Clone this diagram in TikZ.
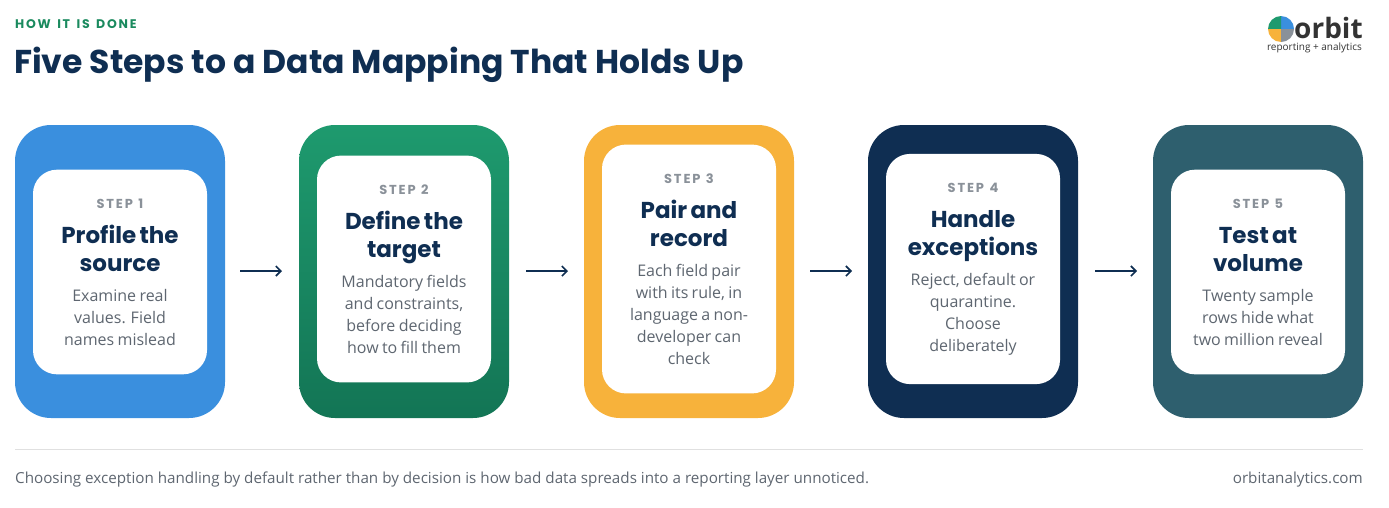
\documentclass[tikz,border=0pt]{standalone}
\usepackage{fontspec}
\setmainfont{Open Sans}
\newfontfamily\headfont{Poppins}
\newfontfamily\spacedfont[LetterSpace=14]{Poppins}
\usetikzlibrary{positioning,arrows.meta}
\definecolor{navy}{HTML}{0F2E52}
\definecolor{inkgray}{HTML}{5E6670}
\definecolor{stepgray}{HTML}{8A9199}
\definecolor{kickgreen}{HTML}{1A8A5E}
\definecolor{cblue}{HTML}{3A8FDE}
\definecolor{cgreenA}{HTML}{1E9A6E}
\definecolor{cgreenB}{HTML}{137555}
\definecolor{corange}{HTML}{F7B23B}
\definecolor{cnavy}{HTML}{0F2E52}
\definecolor{cteal}{HTML}{2E5F6E}
\tikzset{
  card/.style={rounded corners=36pt},
  panel/.style={fill=white, rounded corners=24pt, minimum width=174pt, text width=160pt,
    inner xsep=7pt, inner ysep=29pt, align=center},
  flow/.style={line width=1.6pt, draw=navy, -{Straight Barb[length=5pt,width=10pt]}},
}
\newcommand{\stepbox}[3]{%
  {\spacedfont\bfseries\fontsize{13}{16}\selectfont\color{stepgray}#1\par}\vspace{7pt}
  {\headfont\bfseries\fontsize{23}{28}\selectfont\color{navy}#2\par}\vspace{8pt}
  {\fontsize{16}{22}\selectfont\color{inkgray}#3\par}}
\begin{document}
\begin{tikzpicture}[x=1pt,y=-1pt]
\useasboundingbox (0,0) rectangle (1389,507);
% header
\node[anchor=west, inner sep=0, text=kickgreen, font=\spacedfont\bfseries\fontsize{12.5}{14}\selectfont] (kicker) at (15,24) {HOW\ \,IT\ \,IS\ \,DONE};
\node[anchor=west, inner sep=0, text=navy, font=\headfont\bfseries\fontsize{33}{38}\selectfont] (title) at (14,65) {Five Steps to a Data Mapping That Holds Up};
% logo
\foreach \c/\a in {cblue/0,cgreenA/90,corange/180,stepgray/270}
  \fill[\c] (1281,29) -- ++(\a:13pt) arc[start angle=\a, delta angle=90, radius=13pt] -- cycle;
\node[anchor=west, inner sep=0, text=black!80, font=\fontsize{28}{30}\selectfont\bfseries] (logo) at (1294,28) {orbit};
\node[anchor=north east, inner sep=0, text=black!80, font=\fontsize{10}{11}\selectfont] (tagline) at (1362,43) {reporting + analytics};
% cards
\fill[card, cblue] (15,125) rectangle (225,418);
\shade[card, top color=cgreenA, bottom color=cgreenB] (299,125) rectangle (509,418);
\fill[card, corange] (584,125) rectangle (794,418);
\fill[card, cnavy] (868,125) rectangle (1078,418);
\fill[card, cteal] (1153,125) rectangle (1363,418);
\node[panel] (s1) at (120,272) {\stepbox{STEP\ \,1}{Profile the\\source}{Examine real\\values. Field\\names mislead}};
\node[panel] (s2) at (404,269) {\stepbox{STEP\ \,2}{Define the\\target}{Mandatory fields\\and constraints,\\before deciding\\how to fill them}};
\node[panel] (s3) at (689,269) {\stepbox{STEP\ \,3}{Pair and\\record}{Each field pair\\with its rule, in\\language a non-\\developer can\\check}};
\node[panel] (s4) at (973,269) {\stepbox{STEP\ \,4}{Handle\\exceptions}{Reject, default or\\quarantine.\\Choose\\deliberately}};
\node[panel] (s5) at (1258,272) {\stepbox{STEP\ \,5}{Test at\\volume}{Twenty sample\\rows hide what\\two million reveal}};
% arrows between cards
\foreach \xa in {240,526,810,1095}
  \draw[flow] (\xa,271) -- ++(42,0);
% footer
\draw[black!12, line width=0.8pt] (15,449) -- (1363,449);
\node[anchor=west, inner sep=0, text=inkgray, font=\fontsize{15.2}{17}\selectfont] (note) at (15,480) {Choosing exception handling by default rather than by decision is how bad data spreads into a reporting layer unnoticed.};
\node[anchor=east, inner sep=0, text=inkgray, font=\fontsize{15.2}{17}\selectfont] (site) at (1363,480) {orbitanalytics.com};
\end{tikzpicture}
\end{document}
